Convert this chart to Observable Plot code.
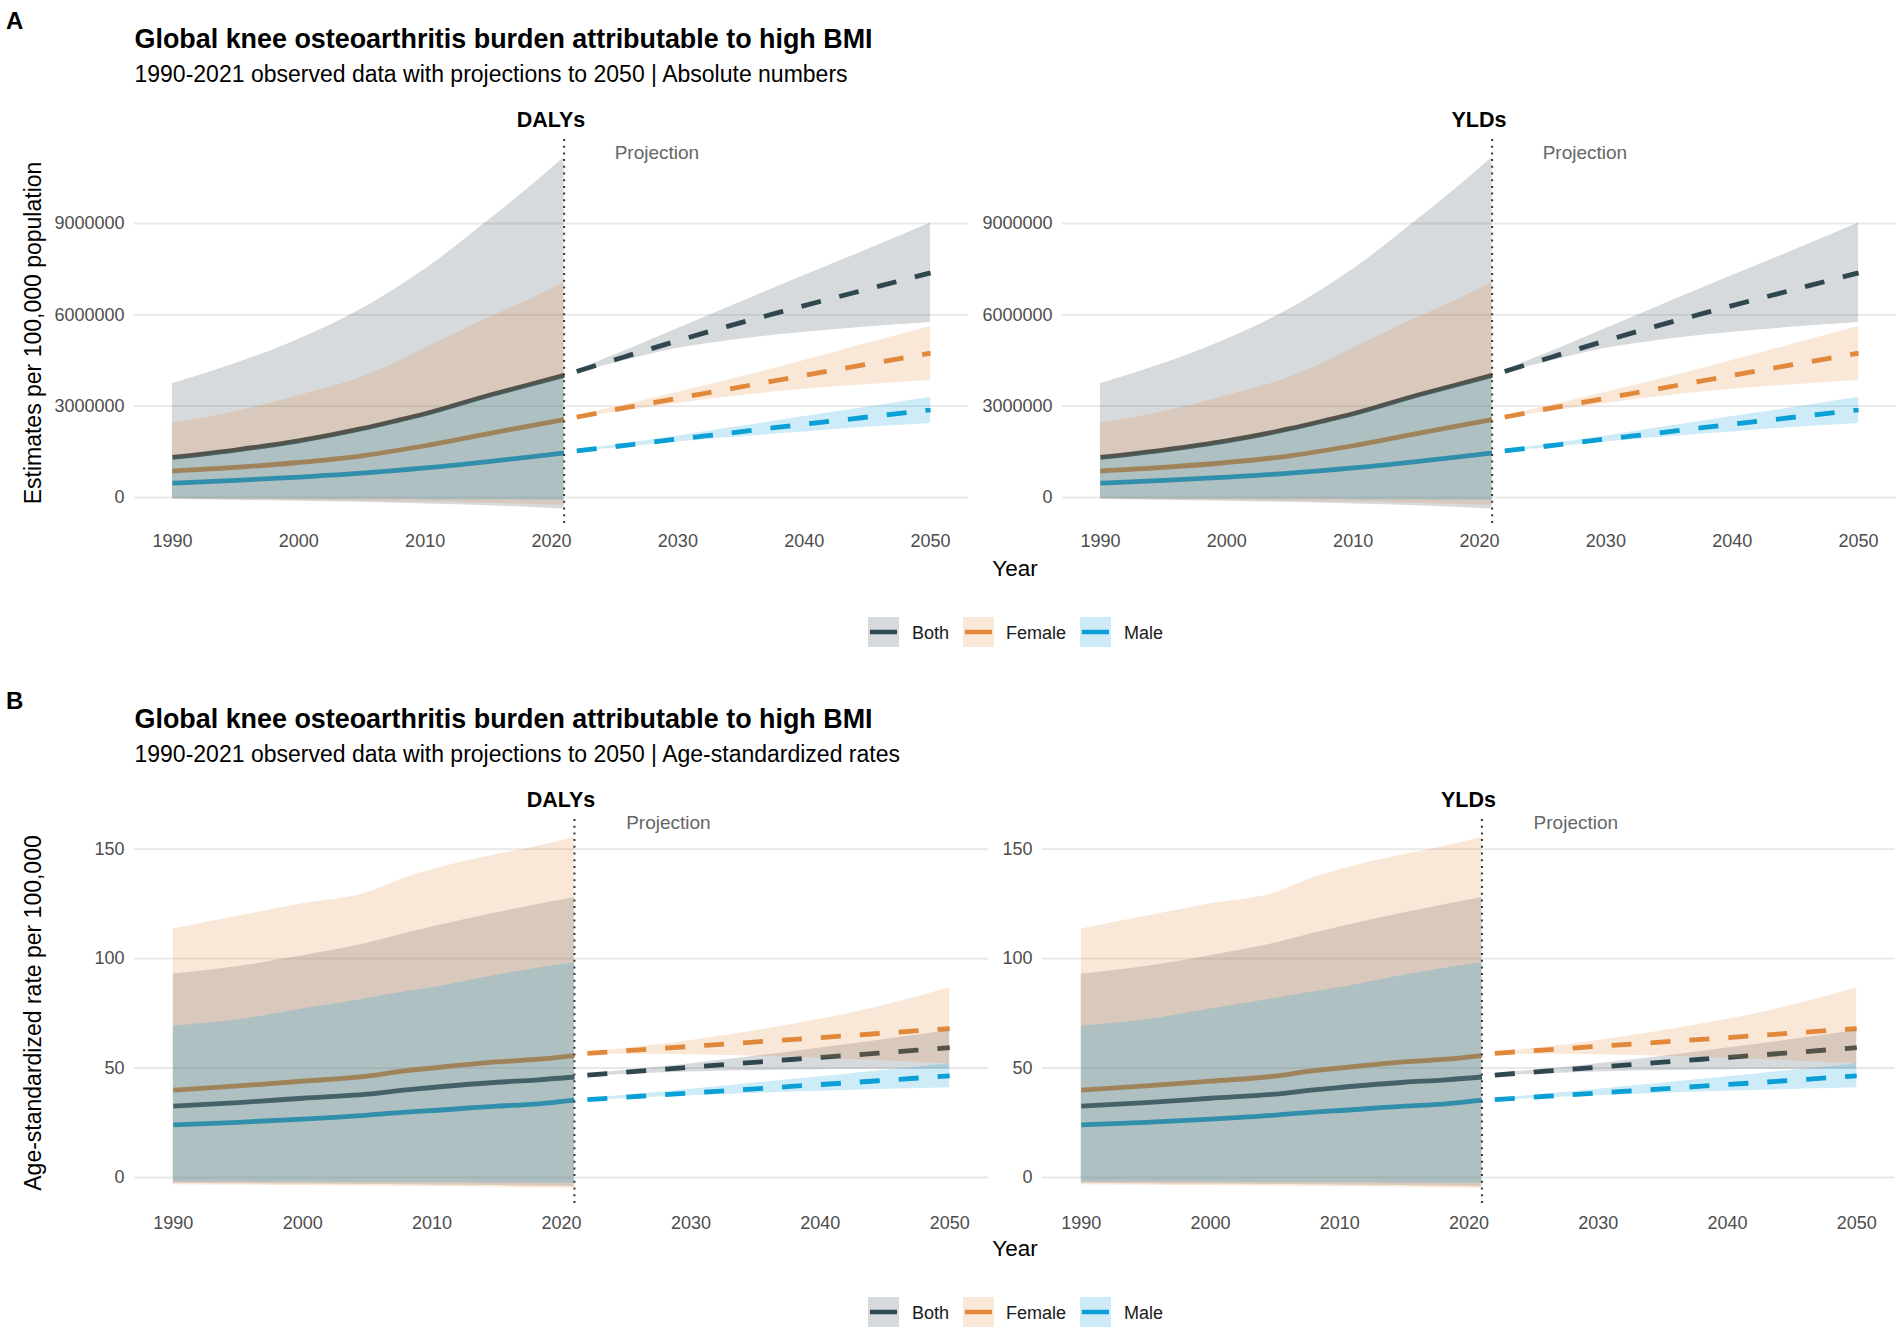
<!DOCTYPE html>
<html><head><meta charset="utf-8">
<script src="https://cdn.jsdelivr.net/npm/d3@7"></script>
<script src="https://cdn.jsdelivr.net/npm/@observablehq/plot@0.6"></script>
<style>
html,body{margin:0;padding:0;background:#fff;}
#page{position:relative;width:1902px;height:1334px;background:#fff;overflow:hidden;}
.facet{position:absolute;}
#overlay{position:absolute;left:0;top:0;pointer-events:none;}
</style></head><body><div id="page"></div>
<script>
const FONT = '"Liberation Sans", Arial, Helvetica, sans-serif';

// ---- categories & ticks ----
const sexes = ["Both", "Female", "Male"];
const sexColors = ["#30484F", "#E3893A", "#0A9FD5"];
const measures = ["DALYs", "YLDs"];
const histYears = [1990, 1995, 2000, 2005, 2008, 2010, 2015, 2018, 2021];
const projYears = [2022, 2026, 2030, 2034, 2038, 2042, 2046, 2050];
const xTicks = [1990, 2000, 2010, 2020, 2030, 2040, 2050];
const absYTicks = [0, 3000000, 6000000, 9000000];
const rateYTicks = [0, 50, 100, 150];

// ---- A: absolute numbers (DALYs and YLDs panels read identical) ----
const absHistMean = {
  Both:   [1320000, 1560000, 1860000, 2260000, 2550000, 2750000, 3350000, 3680000, 4010000],
  Female: [870000, 990000, 1150000, 1370000, 1560000, 1700000, 2100000, 2330000, 2560000],
  Male:   [470000, 560000, 670000, 800000, 900000, 970000, 1180000, 1320000, 1460000]
};
const absHistLower = {
  Both:   [-60000, -90000, -120000, -160000, -190000, -210000, -270000, -320000, -380000],
  Female: [-50000, -70000, -90000, -120000, -140000, -150000, -190000, -220000, -250000],
  Male:   [-30000, -40000, -50000, -60000, -65000, -70000, -80000, -90000, -100000]
};
const absHistUpper = {
  Both:   [3740000, 4400000, 5200000, 6200000, 6950000, 7500000, 9100000, 10100000, 11180000],
  Female: [2430000, 2820000, 3350000, 3950000, 4480000, 4900000, 5900000, 6450000, 7060000],
  Male:   [1260000, 1500000, 1800000, 2200000, 2480000, 2690000, 3290000, 3620000, 3950000]
};
const absProjMean = {
  Both:   [4140000, 4650000, 5150000, 5630000, 6080000, 6520000, 6950000, 7380000],
  Female: [2640000, 2960000, 3260000, 3560000, 3860000, 4160000, 4450000, 4740000],
  Male:   [1530000, 1720000, 1920000, 2110000, 2310000, 2500000, 2690000, 2880000]
};
const absProjLower = {
  Both:   [4100000, 4520000, 4900000, 5150000, 5350000, 5500000, 5630000, 5750000],
  Female: [2600000, 2860000, 3090000, 3300000, 3480000, 3620000, 3740000, 3840000],
  Male:   [1510000, 1660000, 1820000, 1960000, 2090000, 2220000, 2330000, 2430000]
};
const absProjUpper = {
  Both:   [4180000, 4850000, 5550000, 6250000, 6950000, 7630000, 8320000, 9020000],
  Female: [2680000, 3060000, 3460000, 3860000, 4280000, 4720000, 5170000, 5620000],
  Male:   [1550000, 1780000, 2020000, 2280000, 2530000, 2780000, 3030000, 3290000]
};

// ---- B: age-standardized rates (DALYs and YLDs panels read identical) ----
const rateHistMean = {
  Both:   [32.6, 34.2, 36.2, 38.1, 40.0, 41.1, 43.5, 44.5, 45.9],
  Female: [39.9, 41.8, 44.0, 46.3, 48.8, 50.0, 52.8, 53.9, 55.7],
  Male:   [24.0, 25.2, 26.7, 28.5, 29.9, 30.6, 32.6, 33.5, 35.3]
};
const rateHistLower = {
  Both:   [-2.6, -2.8, -3.0, -3.2, -3.3, -3.4, -3.7, -3.9, -4.1],
  Female: [-3.3, -3.5, -3.7, -3.9, -4.1, -4.2, -4.5, -4.7, -4.9],
  Male:   [-2.0, -2.1, -2.2, -2.3, -2.35, -2.4, -2.5, -2.6, -2.7]
};
const rateHistUpper = {
  Both:   [92.9, 96.4, 101.3, 107.0, 111.5, 114.4, 120.9, 124.5, 127.9],
  Female: [113.5, 119.3, 125.0, 130.0, 137.0, 140.5, 147.5, 151.0, 155.4],
  Male:   [69.1, 72.0, 76.9, 81.8, 84.8, 86.7, 92.4, 95.5, 98.1]
};
const rateProjMean = {
  Both:   [46.8, 48.6, 50.4, 52.2, 54.0, 55.7, 57.5, 59.3],
  Female: [56.7, 58.3, 59.9, 61.5, 63.1, 64.7, 66.4, 68.0],
  Male:   [35.6, 37.1, 38.6, 40.1, 41.7, 43.2, 44.8, 46.4]
};
const rateProjLower = {
  Both:   [46.3, 47.4, 48.2, 48.7, 49.1, 49.3, 49.4, 49.5],
  Female: [56.2, 56.3, 56.1, 55.6, 54.9, 54.0, 53.0, 52.0],
  Male:   [35.2, 36.3, 37.3, 38.2, 39.0, 39.7, 40.4, 41.0]
};
const rateProjUpper = {
  Both:   [47.3, 49.6, 52.0, 54.7, 57.6, 60.6, 63.8, 67.1],
  Female: [57.2, 59.6, 62.6, 66.1, 70.1, 74.6, 80.2, 86.7],
  Male:   [36.0, 38.1, 40.3, 42.6, 44.9, 47.2, 49.5, 51.9]
};

// ---- text ----
const titleText = "Global knee osteoarthritis burden attributable to high BMI";
const subtitleA = "1990-2021 observed data with projections to 2050 | Absolute numbers";
const subtitleB = "1990-2021 observed data with projections to 2050 | Age-standardized rates";
const yTitleA = "Estimates per 100,000 population";
const yTitleB = "Age-standardized rate per 100,000";
const xTitle = "Year";
const projLabel = "Projection";

function buildRows(years, mean, lo, hi, period) {
  const out = [];
  for (const s of sexes) years.forEach((yr, i) => out.push({sex: s, period, year: yr, mean: mean[s][i], lo: lo[s][i], hi: hi[s][i]}));
  return out;
}
const absData = buildRows(histYears, absHistMean, absHistLower, absHistUpper, "hist")
  .concat(buildRows(projYears, absProjMean, absProjLower, absProjUpper, "proj"));
const rateData = buildRows(histYears, rateHistMean, rateHistLower, rateHistUpper, "hist")
  .concat(buildRows(projYears, rateProjMean, rateProjLower, rateProjUpper, "proj"));

const page = document.getElementById("page");

function facet({data, yDomain, yTicks, projY, left, top, width, height, ml, mr}) {
  const hist = data.filter(d => d.period === "hist");
  const proj = data.filter(d => d.period === "proj");
  const chart = Plot.plot({
    width, height,
    marginLeft: ml, marginRight: mr, marginTop: 9, marginBottom: 40,
    style: {fontFamily: FONT, fontSize: "18px", color: "#4d4d4d", background: "transparent", overflow: "visible"},
    x: {domain: [1987, 2053]},
    y: {domain: yDomain},
    color: {domain: sexes, range: sexColors},
    marks: [
      Plot.gridY({ticks: yTicks, stroke: "#e8e8e8", strokeOpacity: 1, strokeWidth: 1.8}),
      Plot.lineY(hist, {x: "year", y: "mean", stroke: "sex", strokeWidth: 4.8, strokeLinecap: "butt", curve: "monotone-x"}),
      Plot.lineY(proj, {x: "year", y: "mean", stroke: "sex", strokeWidth: 4.8, strokeLinecap: "butt", strokeDasharray: "20,19", curve: "monotone-x"}),
      Plot.areaY(data, {x: "year", y1: "lo", y2: "hi", fill: "sex", fillOpacity: 0.2, z: d => d.sex + d.period, curve: "monotone-x"}),
      Plot.ruleX([2021], {stroke: "#333", strokeWidth: 2, strokeDasharray: "2,4.7"}),
      Plot.text([{year: 2025, v: projY, label: projLabel}], {x: "year", y: "v", text: "label", textAnchor: "start", fill: "#666", fontSize: 19}),
      Plot.axisX({ticks: xTicks, tickSize: 0, tickPadding: 9, label: null, tickFormat: d => String(d), fontSize: 18}),
      Plot.axisY({ticks: yTicks, tickSize: 0, tickPadding: 10, label: null, tickFormat: d => String(d), fontSize: 18})
    ]
  });
  const div = document.createElement("div");
  div.className = "facet";
  div.style.left = left + "px";
  div.style.top = top + "px";
  div.appendChild(chart);
  page.appendChild(div);
}

// Row A
facet({data: absData, yDomain: [-920000, 11760000], yTicks: absYTicks, projY: 11330000, left: 0, top: 130, width: 975, height: 435, ml: 134, mr: 7});
facet({data: absData, yDomain: [-920000, 11760000], yTicks: absYTicks, projY: 11330000, left: 975, top: 130, width: 927, height: 435, ml: 87, mr: 6});
// Row B
facet({data: rateData, yDomain: [-13.7, 163.5], yTicks: rateYTicks, projY: 161.8, left: 0, top: 810, width: 1000, height: 437, ml: 134, mr: 12});
facet({data: rateData, yDomain: [-13.7, 163.5], yTicks: rateYTicks, projY: 161.8, left: 1000, top: 810, width: 902, height: 437, ml: 42, mr: 7});

// ---- overlay: titles, strip labels, axis titles, legends ----
const svg = d3.select(page).append("svg").attr("id", "overlay")
  .attr("width", 1902).attr("height", 1334).style("font-family", FONT);

function txt(x, y, s, {size = 18, weight = "normal", fill = "#000", anchor = "start", rotate = 0} = {}) {
  const t = svg.append("text").attr("x", x).attr("y", y).text(s)
    .attr("font-size", size).attr("font-weight", weight).attr("fill", fill).attr("text-anchor", anchor);
  if (rotate) t.attr("transform", `rotate(${rotate},${x},${y})`);
  return t;
}

const rows = [
  {off: 0, letter: "A", subtitle: subtitleA, yTitle: yTitleA, strips: [551, 1479]},
  {off: 680, letter: "B", subtitle: subtitleB, yTitle: yTitleB, strips: [561, 1468.5]}
];
const legendPos = [{kx: 868, tx: 912}, {kx: 963, tx: 1006}, {kx: 1080, tx: 1124}];

for (const r of rows) {
  const o = r.off;
  txt(6, 29 + o, r.letter, {size: 24, weight: "bold"});
  txt(134.5, 48 + o, titleText, {size: 26.9, weight: "bold"});
  txt(134.5, 82 + o, r.subtitle, {size: 23});
  measures.forEach((m, i) => txt(r.strips[i], 127 + o, m, {size: 21.5, weight: "bold", anchor: "middle"}));
  txt(41, 333 + o, r.yTitle, {size: 23, anchor: "middle", rotate: -90});
  txt(1015, 576 + o, xTitle, {size: 22.5, anchor: "middle"});
  sexes.forEach((s, i) => {
    const p = legendPos[i];
    svg.append("rect").attr("x", p.kx).attr("y", 617 + o).attr("width", 31).attr("height", 30)
      .attr("fill", sexColors[i]).attr("fill-opacity", 0.2);
    svg.append("line").attr("x1", p.kx + 2).attr("x2", p.kx + 29).attr("y1", 632 + o).attr("y2", 632 + o)
      .attr("stroke", sexColors[i]).attr("stroke-width", 4.5);
    txt(p.tx, 638.5 + o, s, {size: 18, fill: "#1a1a1a"});
  });
}
</script>
</body></html>
